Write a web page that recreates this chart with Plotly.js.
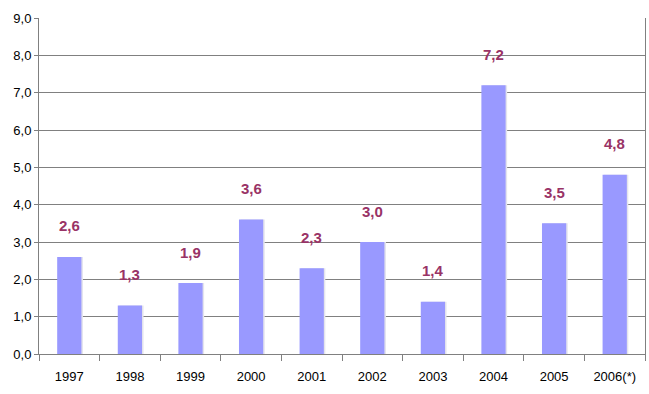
<!DOCTYPE html>
<html>
<head>
<meta charset="utf-8">
<script src="https://cdn.plot.ly/plotly-3.0.1.min.js"></script>
<style>html,body{margin:0;padding:0;background:#fff;}#chart{width:649px;height:394px;}</style>
</head>
<body>
<div id="chart"></div>
<script>
const years = ['1997','1998','1999','2000','2001','2002','2003','2004','2005','2006(*)'];
const values = [2.6, 1.3, 1.9, 3.6, 2.3, 3.0, 1.4, 7.2, 3.5, 4.8];
const yTicks = [0,1,2,3,4,5,6,7,8,9];

const fmt = v => v.toFixed(1).replace('.', ',');
const pos = years.map((_, i) => i);

const shadow = {
  type: 'bar',
  x: pos,
  y: values,
  width: 0.4,
  offset: -0.2 + 0.025,
  marker: {color: '#E4E4EC', line: {width: 0}},
  hoverinfo: 'skip'
};

const trace = {
  type: 'bar',
  x: pos,
  y: values,
  width: 0.4,
  offset: -0.2,
  marker: {color: '#9999FF', line: {width: 0}},
  hoverinfo: 'skip'
};

const annotations = pos.map(i => ({
  x: i, y: values[i], xref: 'x', yref: 'y',
  text: fmt(values[i]), showarrow: false, yshift: 31,
  font: {family: 'Liberation Sans, Arial, sans-serif', size: 15, color: '#993366', weight: 'bold'}
}));

const layout = {
  width: 649, height: 394,
  margin: {l: 39, r: 4, t: 18, b: 40},
  paper_bgcolor: '#fff', plot_bgcolor: '#fff',
  showlegend: false,
  barmode: 'overlay',
  font: {family: 'Liberation Sans, Arial, sans-serif', size: 13, color: '#000'},
  xaxis: {
    range: [-0.5, 9.5], tickvals: pos, ticktext: years, ticks: '',
    ticklabelstandoff: 10,
    showline: true, linecolor: '#808080', linewidth: 1,
    showgrid: false, zeroline: false, tickfont: {size: 13},
    minor: {ticks: 'outside', tick0: -0.5, dtick: 1, ticklen: 6, tickcolor: '#808080', showgrid: false}
  },
  yaxis: {
    range: [0, 9], tickvals: yTicks, ticktext: yTicks.map(fmt),
    showline: true, mirror: true, linecolor: '#808080', linewidth: 1,
    showgrid: true, gridcolor: '#808080', gridwidth: 1,
    ticks: 'outside', ticklen: 4, tickcolor: '#808080',
    zeroline: false, tickfont: {size: 13}
  },
  annotations: annotations
};

Plotly.newPlot('chart', [shadow, trace], layout, {staticPlot: true, displayModeBar: false});
</script>
</body>
</html>
